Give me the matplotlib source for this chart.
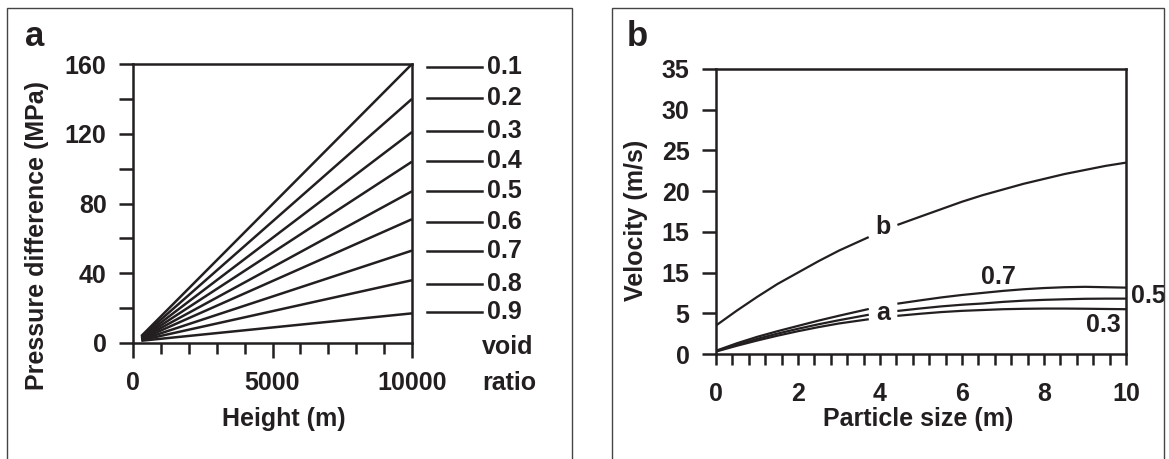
import numpy as np
import matplotlib
matplotlib.use("Agg")
import matplotlib.pyplot as plt
from matplotlib.patches import Rectangle
from matplotlib.ticker import MultipleLocator, FixedLocator, FixedFormatter

plt.rcParams['font.family'] = ['Liberation Sans', 'DejaVu Sans']
plt.rcParams['font.weight'] = 'bold'
plt.rcParams['axes.labelweight'] = 'bold'
INK = '#231f20'

# ---- panel a : pressure difference vs height for void ratios ----
void_ratio = ['0.1', '0.2', '0.3', '0.4', '0.5', '0.6', '0.7', '0.8', '0.9']
start_height = 300
start_pressure = [4.0, 3.6, 3.2, 2.8, 2.5, 2.2, 1.9, 1.6, 1.3]
end_height = 10000
end_pressure = [160, 140, 121, 104, 87, 71, 53, 36, 17]
key_pressure = [158, 140.5, 121.5, 104.5, 87, 69.5, 52.5, 34, 18]

# ---- panel b : velocity vs particle size ----
size = [0, 0.25, 0.5, 1, 1.5, 2, 2.5, 3, 3.7, np.nan, 4.45, 5, 5.5, 6, 6.5,
        7, 7.5, 8, 8.5, 9, 9.5, 10]
vel_b = [3.5, 4.4, 5.3, 7.0, 8.6, 10.0, 11.4, 12.7, 14.3, np.nan, 15.9, 16.9,
         17.8, 18.7, 19.5, 20.2, 20.9, 21.5, 22.1, 22.6, 23.1, 23.5]
vel_a07 = [0.4, 0.85, 1.3, 2.1, 2.8, 3.45, 4.1, 4.7, 5.5, np.nan, 6.2, 6.6,
           6.95, 7.25, 7.5, 7.75, 7.95, 8.1, 8.2, 8.25, 8.2, 8.15]
vel_a05 = [0.35, 0.75, 1.1, 1.85, 2.5, 3.1, 3.65, 4.15, 4.8, np.nan, 5.3, 5.6,
           5.85, 6.05, 6.2, 6.4, 6.55, 6.65, 6.72, 6.78, 6.8, 6.8]
vel_a03 = [0.3, 0.65, 1.0, 1.65, 2.25, 2.8, 3.3, 3.75, 4.25, np.nan, 4.7, 4.95,
           5.15, 5.3, 5.4, 5.5, 5.55, 5.58, 5.58, 5.56, 5.53, 5.5]
vel_ticks = [0, 5, 10, 15, 20, 25, 30, 35]
vel_tick_labels = ['0', '5', '15', '15', '20', '25', '30', '35']

W, H = 1169, 459
fig = plt.figure(figsize=(W / 100, H / 100), dpi=100)

# panel frames
for x0, x1 in [(7, 572), (612, 1164)]:
    fig.patches.append(Rectangle((x0 / W, -0.1), (x1 - x0) / W, 1.1 - 8 / H,
                                 transform=fig.transFigure, fill=False,
                                 edgecolor='#444444', linewidth=1.0))

fs = 18

def style(ax):
    for s in ax.spines.values():
        s.set_linewidth(1.8)
        s.set_color(INK)
    ax.tick_params(colors=INK, labelsize=fs, width=1.8, direction='out',
                   top=False, right=False)
    ax.tick_params(which='minor', width=1.8, direction='out',
                   top=False, right=False, colors=INK)

# ---------------- a ----------------
ax1 = fig.add_axes([133 / W, 1 - 343 / H, 279 / W, 279 / H])
for p0, p1 in zip(start_pressure, end_pressure):
    ax1.plot([start_height, end_height], [p0, p1], color=INK, lw=1.8,
             solid_capstyle='butt')
ax1.set_xlim(0, 10000)
ax1.set_ylim(0, 160)
ax1.set_xticks([0, 5000, 10000])
ax1.xaxis.set_minor_locator(MultipleLocator(1000))
ax1.yaxis.set_major_locator(MultipleLocator(40))
ax1.yaxis.set_minor_locator(MultipleLocator(20))
style(ax1)
ax1.tick_params(axis='x', which='major', length=11, pad=9)
ax1.tick_params(axis='x', which='minor', length=8)
ax1.tick_params(axis='y', which='both', length=10, pad=9)
ax1.set_xlabel('Height (m)', fontsize=fs, color=INK)
ax1.xaxis.set_label_coords(0.54, -0.23)
ax1.set_ylabel('Pressure difference (MPa)', fontsize=fs, color=INK)
ax1.yaxis.set_label_coords(-0.30, 0.385)

for lab, yk in zip(void_ratio, key_pressure):
    ax1.plot([1.054, 1.251], [yk, yk], color=INK, lw=1.8, clip_on=False,
             transform=ax1.get_yaxis_transform())
    ax1.text(1.27, yk, lab, fontsize=fs, color=INK, va='center', ha='left',
             transform=ax1.get_yaxis_transform())
ax1.text(1.252, -0.015, 'void', fontsize=fs, color=INK, va='center',
         ha='left', transform=ax1.transAxes)
ax1.text(1.252, -0.145, 'ratio', fontsize=fs, color=INK, va='center',
         ha='left', transform=ax1.transAxes)
fig.text(35 / W, 1 - 37 / H, 'a', fontsize=25, color=INK, ha='center',
         va='center')

# ---------------- b ----------------
ax2 = fig.add_axes([716 / W, 1 - 354 / H, 410 / W, 285 / H])
for v in (vel_b, vel_a07, vel_a05, vel_a03):
    ax2.plot(size, v, color=INK, lw=1.6)
ax2.set_xlim(0, 10)
ax2.set_ylim(0, 35)
ax2.xaxis.set_major_locator(MultipleLocator(2))
ax2.xaxis.set_minor_locator(MultipleLocator(0.4))
ax2.yaxis.set_major_locator(FixedLocator(vel_ticks))
ax2.yaxis.set_major_formatter(FixedFormatter(vel_tick_labels))
style(ax2)
ax2.tick_params(axis='x', which='both', length=8, pad=12)
ax2.tick_params(axis='y', which='major', length=10, pad=9)
ax2.set_xlabel('Particle size (m)', fontsize=fs, color=INK)
ax2.xaxis.set_label_coords(0.493, -0.185)
ax2.set_ylabel('Velocity (m/s)', fontsize=fs, color=INK)
ax2.yaxis.set_label_coords(-0.165, 0.47)

ax2.text(4.07, 15.6, 'b', fontsize=fs, color=INK, ha='center', va='center')
ax2.text(4.07, 5.0, 'a', fontsize=fs, color=INK, ha='center', va='center')
ax2.text(6.9, 9.4, '0.7', fontsize=fs, color=INK, ha='center', va='center')
ax2.text(10.12, 7.1, '0.5', fontsize=fs, color=INK, ha='left', va='center')
ax2.text(9.46, 3.5, '0.3', fontsize=fs, color=INK, ha='center', va='center')
fig.text(637 / W, 1 - 36 / H, 'b', fontsize=25, color=INK, ha='center',
         va='center')

fig.savefig('out.png', dpi=100)
